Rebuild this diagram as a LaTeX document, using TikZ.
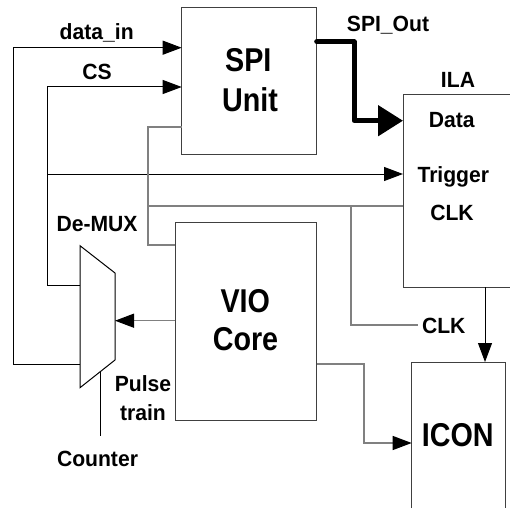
\documentclass[tikz,border=0pt]{standalone}
\usepackage{fontspec}
\setmainfont{Liberation Sans}
\newfontfamily\smallf[FakeStretch=0.96]{Liberation Sans}
\newfontfamily\bigf[FakeStretch=0.87]{Liberation Sans}
\usetikzlibrary{arrows.meta}
\begin{document}
\begin{tikzpicture}[x=1pt,y=-1pt,
  lbl/.style={font=\smallf\bfseries\fontsize{22}{26}\selectfont, anchor=base, inner sep=0pt},
  big/.style={font=\bigf\bfseries\fontsize{33}{40}\selectfont, anchor=base, inner sep=0pt},
  wire/.style={line width=1pt, draw=black},
  gwire/.style={line width=1.2pt, draw=black!50},
  box/.style={line width=1pt, draw=black!75},
  blk/.style={inner sep=0pt, outer sep=0pt},
  arr/.style={-{Triangle[length=19pt,width=14pt,color=black]}},
  bigarr/.style={line width=5pt, line cap=round, line join=round, -{Triangle[length=25pt,width=30pt]}},
]
\useasboundingbox (0,0) rectangle (510,508);
\fill[white] (0,0) rectangle (510,508);

% blocks
\node[blk, box, minimum width=135pt, minimum height=146pt] (spi) at (249.2,81) {};
\node[blk, box, minimum width=141.7pt, minimum height=198pt] (vio) at (245.85,321) {};
\node[blk, minimum width=107pt, minimum height=193pt] (ila) at (456.5,190.5) {};
\node[blk, minimum width=94pt, minimum height=146pt] (icon) at (458.7,435) {};
\draw[box] (ila.north east) -- (ila.north west) -- (ila.south west) -- (ila.south east);
\draw[box] (icon.south west) -- (icon.north west) -- (icon.north east) -- (icon.south east);

% de-mux
\coordinate (mTL) at (80,245.7);
\coordinate (mTR) at (115,273);
\coordinate (mBR) at (115,360);
\coordinate (mBL) at (80,387.7);
\draw[wire, fill=white] (mTL) -- (mTR) -- (mBR) -- (mBL) -- cycle;

% junction coordinates
\coordinate (mA) at (80,285);
\coordinate (mB) at (80,364);
\coordinate (mR) at (115,320.7);
\coordinate (mC) at (100.7,371.3);
\coordinate (cEnd) at (100.7,436);
\coordinate (dinL) at (13,47.7);
\coordinate (dinB) at (13,364);
\coordinate (csL) at (47,87);
\coordinate (csB) at (47,285);
\coordinate (tJ) at (47,174);
\coordinate (g1) at (148,127);
\coordinate (g2) at (148,245);
\coordinate (g3) at (148,206);
\coordinate (clkJ) at (351,206);
\coordinate (clkB) at (351,325);
\coordinate (clkE) at (418,325);
\coordinate (v1) at (364,364);
\coordinate (v2) at (364,443);
\coordinate (so1) at (354,41.7);
\coordinate (so2) at (354,120.7);
\coordinate (ilaOut) at (485,287);

% connectors
\draw[wire, arr] (mB) -- (dinB) -- (dinL) -- (dinL -| spi.west);
\draw[wire, arr] (mA) -- (csB) -- (csL) -- (csL -| spi.west);
\draw[wire, arr] (tJ) -- (tJ -| ila.west);
\draw[gwire] (g1 -| spi.west) -- (g1) -- (g2) -- (g2 -| vio.west);
\draw[gwire] (g3) -- (g3 -| ila.west);
\draw[gwire] (clkJ) -- (clkB) -- (clkE);
\draw[gwire, arr] (mR -| vio.west) -- (mR);
\draw[gwire, arr] (v1 -| vio.east) -- (v1) -- (v2) -- (v2 -| icon.west);
\draw[wire, arr] (ilaOut) -- (ilaOut |- icon.north);
\draw[wire] (mC) -- (cEnd);
\draw[bigarr] (so1 -| spi.east) -- (so1) -- (so2) -- (so2 -| ila.west);

% labels
\node[lbl] (tdin) at (96.7,40) {data\_in};
\node[lbl] (tcs) at (97,80) {CS};
\node[lbl] (tdemux) at (97,231) {De-MUX};
\node[lbl] (tpulse) at (143,391) {Pulse};
\node[lbl] (ttrain) at (143,420.7) {train};
\node[lbl] (tcounter) at (97.5,466.7) {Counter};
\node[lbl] (tspiout) at (388,31.7) {SPI\_Out};
\node[lbl] (tila) at (458,87.3) {ILA};
\node[lbl] (tdata) at (451.7,127.7) {Data};
\node[lbl] (ttrig) at (453.3,182) {Trigger};
\node[lbl] (tclk1) at (452,220.7) {CLK};
\node[lbl] (tclk2) at (443.7,333.3) {CLK};
\node[big] (tspi) at (248.3,71.7) {SPI};
\node[big] (tunit) at (250,111.7) {Unit};
\node[big] (tvio) at (245.3,312.3) {VIO};
\node[big] (tcore) at (245.5,350.7) {Core};
\node[big] (ticon) at (457.8,446) {ICON};
\end{tikzpicture}
\end{document}
